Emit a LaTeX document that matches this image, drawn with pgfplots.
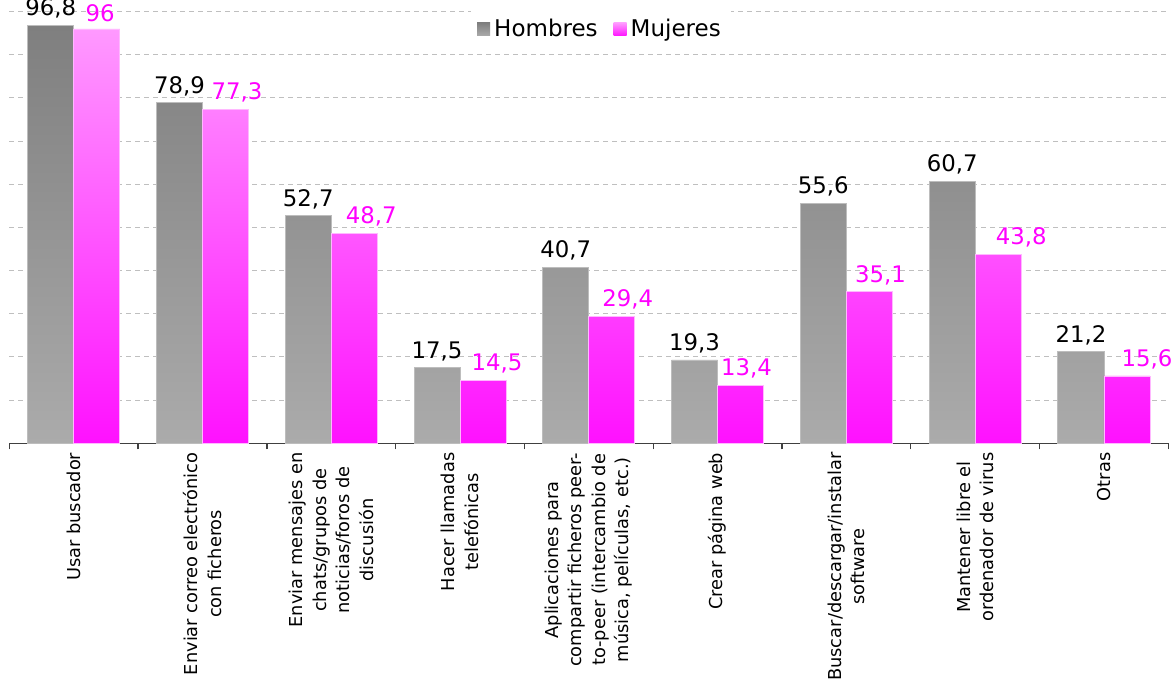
\documentclass[border=0pt]{standalone}
\usepackage{fontspec}
\setmainfont{DejaVu Sans}
\usepackage{pgfplots}
\usepackage{pgfplotstable}
\pgfplotsset{compat=1.18}
\definecolor{gtop}{HTML}{7F7F7F}
\definecolor{gbot}{HTML}{ABABAB}
\definecolor{gedge}{HTML}{BDBDBD}
\definecolor{ptop}{HTML}{FF99FF}
\definecolor{pbot}{HTML}{FF11FF}
\definecolor{pedge}{HTML}{FFB8FF}
\definecolor{plab}{HTML}{FF00FF}
\pgfplotsset{sqlegend/.style={legend image code/.code={\path[##1, draw=none] (0pt,-3.25pt) rectangle (6.5pt,3.25pt);}}}
\pgfplotstableread{
x h m dx
0 96.8 96 1.75
1 78.9 77.3 5.75
2 52.7 48.7 8.5
3 17.5 14.5 7
4 40.7 29.4 8
5 19.3 13.4 3
6 55.6 35.1 5.5
7 60.7 43.8 11.5
8 21.2 15.6 10
}\data
\begin{document}
\begin{tikzpicture}
\begin{axis}[
  scale only axis, width=579.5pt, height=221.65pt,
  xmin=-0.5, xmax=8.5, ymin=0, ymax=102.7,
  axis x line*=bottom, axis y line*=left,
  y axis line style={draw=none},
  x axis line style={black!75, line width=0.7pt},
  ytick={10,20,...,100}, yticklabels={}, major y tick style={draw=none},
  ymajorgrids, grid style={gray!50, line width=0.5pt, dash pattern=on 2.5pt off 2pt},
  xtick={0,...,8}, major x tick style={draw=none}, major tick length=0pt,
  minor xtick={-0.5,0.5,...,8.5}, minor x tick style={black!75, line width=0.7pt},
  minor tick length=3pt, xtick align=outside,
  xticklabels={{Usar buscador},
    {Enviar correo electrónico\\con ficheros},
    {Enviar mensajes en\\chats/grupos de\\noticias/foros de\\discusión},
    {Hacer llamadas\\telefónicas},
    {Aplicaciones para\\compartir ficheros peer-\\to-peer (intercambio de\\música, películas, etc.)},
    {Crear página web},
    {Buscar/descargar/instalar\\software},
    {Mantener libre el\\ordenador de virus},
    {Otras}},
  xticklabel style={rotate=90, anchor=east, align=center, font=\fontsize{8.9}{11.75}\selectfont, inner sep=0pt},
  xticklabel shift=4.5pt,
  ybar=0pt, bar width=0.3575,
  nodes near coords={\pgfmathprintnumber[use comma, fixed, precision=1]{\pgfplotspointmeta}},
  every node near coord/.append style={font=\fontsize{11.4}{13}\selectfont},
  legend columns=2,
  legend style={draw=none, fill=white, at={(0.5105,0.9335)}, anchor=center,
    font=\fontsize{11.5}{13}\selectfont, inner sep=3pt,
    /tikz/every even column/.append style={column sep=6pt}},
  /pgf/number format/assume math mode=true,
  clip=false,
]
\addplot[ybar, draw=gedge, line width=0.4pt, top color=gtop, bottom color=gbot, sqlegend,
  every node near coord/.append style={text=black}]
  table[x=x, y=h] {\data};
\addplot[ybar, draw=pedge, line width=0.4pt, top color=ptop, bottom color=pbot, sqlegend,
  visualization depends on={\thisrow{dx}\as\mydx},
  every node near coord/.append style={text=plab, xshift=\mydx pt}]
  table[x=x, y=m] {\data};
\legend{Hombres, Mujeres}
\coordinate (BL) at (rel axis cs:0,0);
\coordinate (TR) at (rel axis cs:1,1);
\end{axis}
\pgfresetboundingbox
\path[use as bounding box] ([shift={(-4.67pt,-118.85pt)}]BL) rectangle ([shift={(3.85pt,0pt)}]TR);
\end{tikzpicture}
\end{document}
